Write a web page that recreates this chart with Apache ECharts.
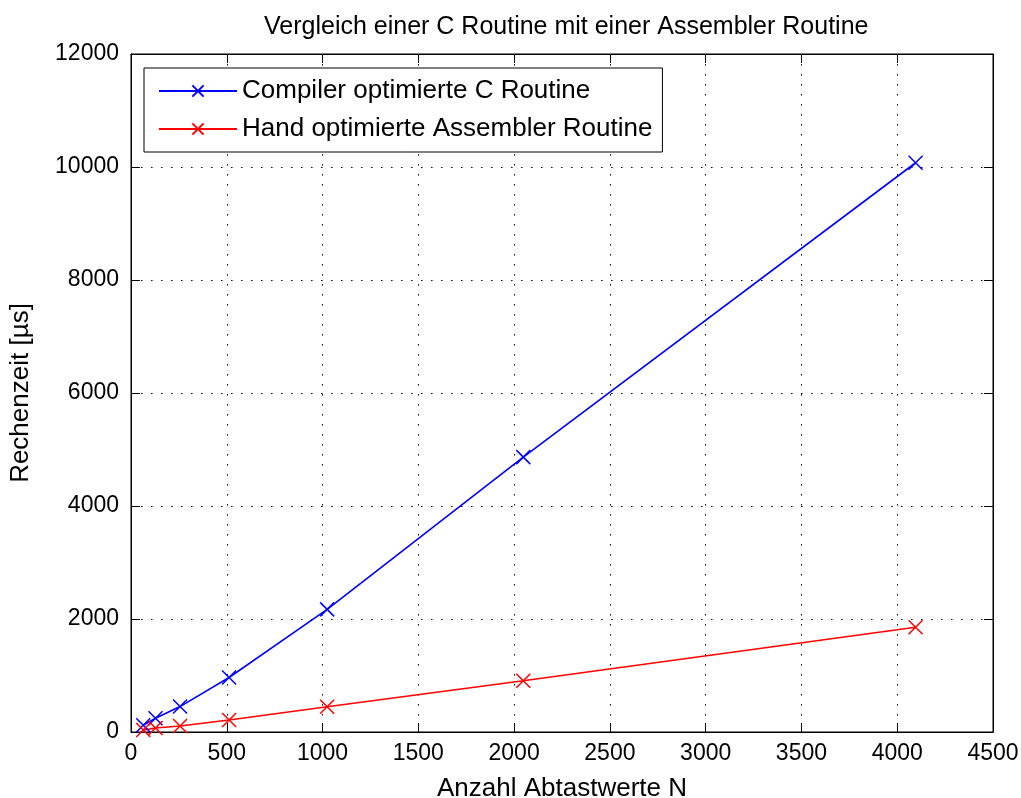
<!DOCTYPE html>
<html>
<head>
<meta charset="utf-8">
<script src="https://cdn.jsdelivr.net/npm/echarts@6/dist/echarts.min.js"></script>
<style>
  html, body { margin: 0; padding: 0; background: #fff; }
  #chart { width: 1021px; height: 798px; }
</style>
</head>
<body>
<div id="chart"></div>
<script>
// Anzahl Abtastwerte N
const samples = [64, 128, 256, 512, 1024, 2048, 4096];
// Rechenzeit in µs
const cRoutine = [120, 245, 450, 965, 2170, 4865, 10075];
const asmRoutine = [35, 70, 106, 212, 448, 908, 1853];
const seriesNames = ['Compiler optimierte C Routine', 'Hand optimierte Assembler Routine'];
const xTicks = { min: 0, max: 4500, interval: 500 };
const yTicks = { min: 0, max: 12000, interval: 2000 };

const FONT = "'Liberation Sans', Arial, sans-serif";
const crossSymbol = 'path://M0,0L10,10M10,0L0,10';
const plain = v => String(v);

const chart = echarts.init(document.getElementById('chart'), null, { renderer: 'canvas' });

function axisBase(range, extra) {
  return Object.assign({
    type: 'value',
    min: range.min, max: range.max, interval: range.interval,
    axisLine: { show: true, onZero: false, lineStyle: { color: '#000', width: 1 } },
    axisTick: { show: true, inside: true, length: 9, lineStyle: { color: '#000' } },
    axisLabel: { color: '#000', fontFamily: FONT, fontSize: 23, formatter: plain },
    splitLine: { show: false }
  }, extra);
}

const gridLine = { show: true, lineStyle: { color: '#111', width: 1, type: [1.6, 8.4] } };

const option = {
  backgroundColor: '#fff',
  animation: false,
  title: {
    text: 'Vergleich einer C Routine mit einer Assembler Routine',
    left: 259, top: 10,
    textStyle: { color: '#000', fontFamily: FONT, fontSize: 25, fontWeight: 'normal' }
  },
  legend: {
    orient: 'vertical',
    left: 144, top: 68,
    padding: [10, 10, 10, 14],
    itemWidth: 78, itemHeight: 14, itemGap: 12,
    backgroundColor: '#fff',
    borderColor: '#000', borderWidth: 1,
    textStyle: { color: '#000', fontFamily: FONT, fontSize: 26 },
    data: seriesNames
  },
  grid: {
    left: 131, right: 28, top: 54, bottom: 66,
    show: true, borderColor: '#000', borderWidth: 1,
    containLabel: false, outerBoundsMode: 'none'
  },
  xAxis: [
    axisBase(xTicks, {
      position: 'bottom',
      name: 'Anzahl Abtastwerte N', nameLocation: 'middle', nameGap: 44,
      nameTextStyle: { color: '#000', fontFamily: FONT, fontSize: 26 },
      axisLabel: { color: '#000', fontFamily: FONT, fontSize: 23, margin: 10, formatter: plain },
      splitLine: gridLine
    }),
    axisBase(xTicks, { position: 'top', axisLabel: { show: false } })
  ],
  yAxis: [
    axisBase(yTicks, {
      position: 'left',
      name: 'Rechenzeit [µs]', nameLocation: 'middle', nameGap: 97,
      nameTextStyle: { color: '#000', fontFamily: FONT, fontSize: 26 },
      axisLabel: { color: '#000', fontFamily: FONT, fontSize: 23, margin: 12, formatter: plain },
      splitLine: gridLine
    }),
    axisBase(yTicks, { position: 'right', axisLabel: { show: false } })
  ],
  series: [
    {
      name: seriesNames[0], type: 'line',
      data: samples.map((n, i) => [n, cRoutine[i]]),
      symbol: crossSymbol, symbolSize: 14, showAllSymbol: true,
      lineStyle: { color: '#0000ff', width: 1.6 },
      itemStyle: { color: '#0000ff', borderColor: '#0000ff', borderWidth: 1.5 },
      emphasis: { disabled: true }
    },
    {
      name: seriesNames[1], type: 'line',
      data: samples.map((n, i) => [n, asmRoutine[i]]),
      symbol: crossSymbol, symbolSize: 14, showAllSymbol: true,
      lineStyle: { color: '#ff0000', width: 1.6 },
      itemStyle: { color: '#ff0000', borderColor: '#ff0000', borderWidth: 1.5 },
      emphasis: { disabled: true }
    }
  ]
};

chart.setOption(option);
</script>
</body>
</html>
